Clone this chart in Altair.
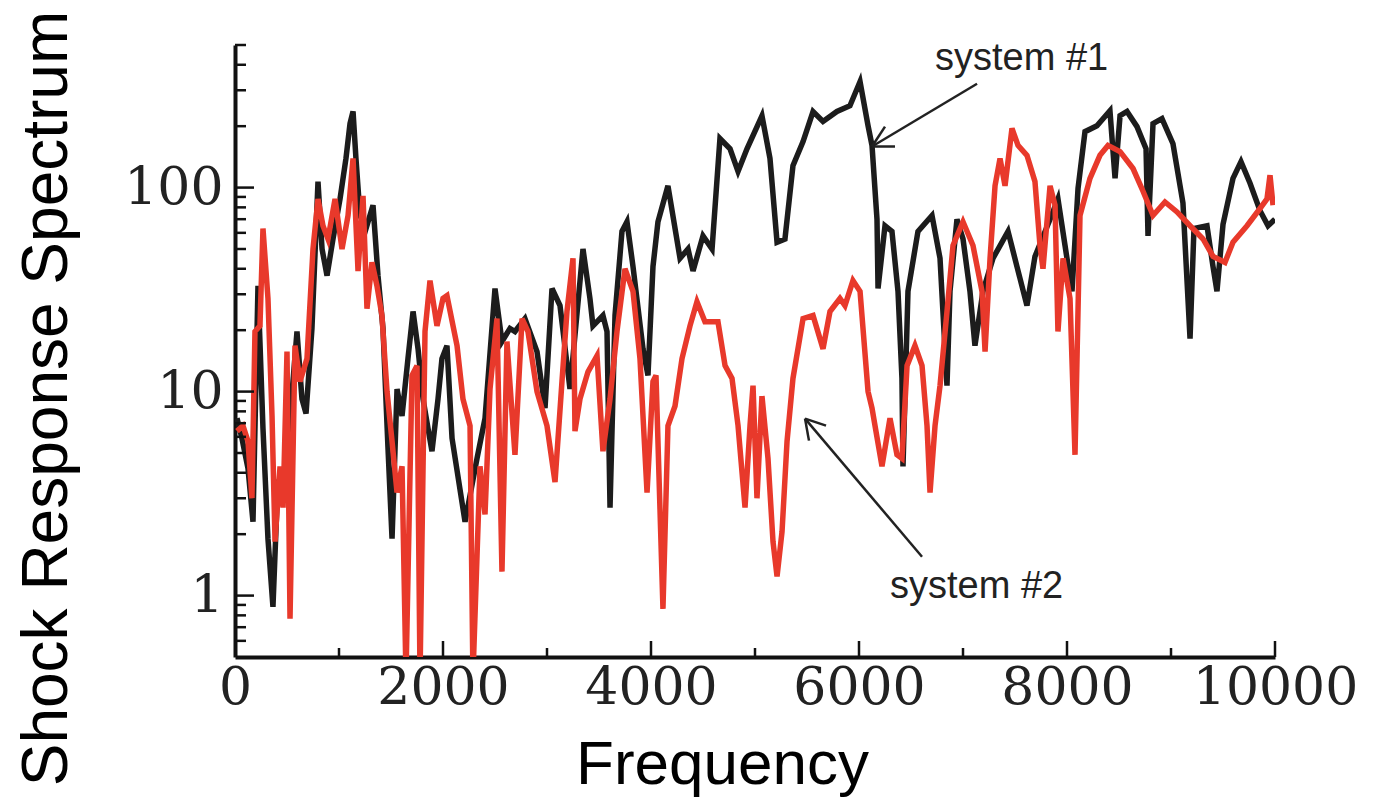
import altair as alt
import pandas as pd

# ---------------- data ----------------
black_freq = [19, 67, 125, 173, 221, 269, 317, 365, 413, 452, 529, 596, 644, 683, 740, 798, 837, 885,
              942, 1010, 1067, 1106, 1135, 1163, 1202, 1260, 1327, 1375, 1423, 1471, 1510, 1558, 1606,
              1663, 1712, 1760, 1808, 1856, 1894, 1952, 1990, 2038, 2087, 2212, 2327, 2404, 2500, 2567,
              2644, 2692, 2788, 2904, 2981, 3048, 3125, 3221, 3346, 3413, 3442, 3538, 3577, 3606, 3654,
              3721, 3769, 3827, 3923, 3971, 4019, 4067, 4163, 4279, 4356, 4404, 4500, 4587, 4663, 4760,
              4837, 4923, 5067, 5144, 5212, 5288, 5365, 5462, 5558, 5654, 5788, 5913, 6010, 6087, 6125,
              6173, 6183, 6250, 6317, 6375, 6413, 6423, 6471, 6567, 6702, 6779, 6846, 6875, 6942, 7000,
              7067, 7115, 7192, 7288, 7433, 7519, 7615, 7692, 7837, 7913, 7981, 8048, 8106, 8173, 8288,
              8413, 8462, 8510, 8577, 8673, 8760, 8779, 8827, 8913, 9019, 9115, 9183, 9221, 9346, 9404,
              9442, 9500, 9596, 9673, 9760, 9856, 9933, 10000]
black_val = [7.4, 5.9, 4.2, 2.3, 33, 6.6, 1.9, 0.88, 3.7, 2.8, 7.4, 19.7, 9.2, 7.8, 20.4, 107, 50, 37,
             56, 88, 139, 206, 236, 139, 73, 63, 82, 37, 20.4, 5.3, 1.9, 10.3, 7.6,
             14.5, 24.7, 16.2, 9.2, 6.6, 5.1, 9.2, 14.5, 16.8, 5.9, 2.3, 4.7, 7.4, 32, 17.6,
             20.4, 19.7, 22.8, 15.7, 8.3, 32, 26.4, 10.3, 50, 28.6, 21, 23.6, 19.7, 2.7, 23.6,
             61, 68, 41, 16.2, 12, 41, 68, 102, 45, 50, 39, 58, 50, 174, 155,
             120, 155, 225, 139, 54, 56, 128, 168, 236, 211, 236, 252, 331, 201, 161,
             70, 32, 65, 61, 31, 11.6, 4.3, 31, 61, 73, 45, 10.7, 31, 70, 56,
             31, 16.8, 31, 45, 61, 41, 26.4, 46, 70, 88, 52, 31, 99, 188, 201,
             238, 111, 225, 236, 199, 155, 58, 206, 218, 164, 84, 18.2, 63, 65, 41,
             31, 66, 111, 134, 105, 77, 65, 70]

red_freq = [19, 77, 125, 163, 192, 240, 269, 317, 356, 385, 433, 462, 500, 529, 577, 625, 692, 750,
            798, 846, 894, 962, 1029, 1087, 1135, 1183, 1231, 1269, 1317, 1365, 1413, 1462, 1510,
            1558, 1606, 1644, 1702, 1750, 1779, 1827, 1875, 1942, 2000, 2038, 2135, 2192, 2260, 2288,
            2356, 2404, 2452, 2519, 2567, 2615, 2692, 2760, 2817, 2904, 3000, 3077, 3144, 3192, 3250,
            3269, 3317, 3394, 3481, 3538, 3606, 3673, 3750, 3827, 3894, 3962, 4019, 4048, 4115, 4163,
            4231, 4298, 4375, 4442, 4519, 4644, 4712, 4779, 4837, 4904, 4952, 4981, 5019, 5067, 5125,
            5173, 5212, 5260, 5308, 5365, 5462, 5558, 5654, 5721, 5817, 5865, 5942, 6010, 6087, 6125,
            6154, 6221, 6298, 6365, 6413, 6462, 6538, 6606, 6654, 6683, 6731, 6779, 6846, 6904, 7000,
            7096, 7183, 7212, 7260, 7308, 7356, 7404, 7471, 7529, 7615, 7692, 7740, 7769, 7837, 7885,
            7913, 7962, 8029, 8077, 8125, 8221, 8317, 8394, 8510, 8635, 8731, 8827, 8942, 9058, 9183,
            9308, 9404, 9519, 9596, 9731, 9856, 9923, 9952, 9981]
red_val = [6.4, 6.8, 5.7, 3.0, 19.7, 21, 63, 28.6, 7.6, 1.84, 4.3, 2.7, 15.7, 0.77, 16.8, 11.2, 14.5, 50,
           88, 65, 56, 88, 50, 73, 139, 39, 91, 25.5, 43, 33, 23.6, 10, 5.7,
           3.2, 4.3, 0.4, 12, 13.4, 0.4, 19.7, 35, 21, 28.6, 29.5, 16.8, 9.2, 6.8, 0.4,
           4.3, 2.5, 10.3, 22.8, 1.31, 17.6, 4.9, 22.8, 19.7, 10, 6.8, 3.6, 11.2, 24.7, 45,
           6.4, 9.2, 12.5, 15, 5.1, 9.2, 19.7, 40, 31, 14.5, 3.2, 11.2, 12, 0.86, 6.8,
           8.5, 14.5, 21, 27.6, 22, 22, 13.4, 11.6, 6.8, 2.7, 6.8, 10.7, 3.0, 9.5, 4.7,
           1.84, 1.24, 2.06, 5.7, 11.6, 22.8, 23.6, 16.2, 24.7, 28.6, 26.4, 35, 31, 10, 8.3,
           6.8, 4.3, 7.4, 4.9, 4.7, 13.4, 16.8, 13.4, 6.8, 3.2, 6.8, 10.7, 24.7, 52, 68,
           52, 31, 15.7, 45, 102, 139, 102, 195, 161, 144, 107, 52, 40, 102, 82,
           19.7, 45, 28.6, 4.9, 73, 111, 144, 161, 150, 124, 96, 73, 85, 76, 65,
           56, 46, 43, 54, 65, 79, 88, 115, 82]

x_label_values = [0, 2000, 4000, 6000, 8000, 10000]
x_major_ticks = [2000, 4000, 6000, 8000, 10000]
x_minor_ticks = [1000, 3000, 5000, 7000, 9000]
y_label_values = [1, 10, 100]
y_minor_ticks = [0.6, 0.7, 0.8, 0.9, 2, 3, 4, 5, 6, 7, 8, 9,
                 20, 30, 40, 50, 60, 70, 80, 90, 200, 300, 400, 500]

# annotations (data coordinates)
ann_text = ["system #1", "system #2"]
ann_text_freq = [6731, 6298]
ann_text_val = [375, 0.97]
# arrows: shaft and barbs as segments (freq, val) -> (freq2, val2)
arrow_seg = [
    (7135, 323, 6125, 159),
    (6125, 159, 6346, 159),
    (6125, 159, 6250, 199),
    (6606, 1.55, 5481, 7.37),
    (5481, 7.37, 5519, 5.75),
    (5481, 7.37, 5683, 6.81),
]

# ---------------- build frames ----------------
df = pd.concat([
    pd.DataFrame({"freq": black_freq, "val": black_val, "series": "system #1"}),
    pd.DataFrame({"freq": red_freq, "val": red_val, "series": "system #2"}),
])
xscale = alt.Scale(domain=[0, 10000], nice=False, zero=False)
yscale = alt.Scale(type="log", domain=[0.5, 500], nice=False)

W, H = 1040, 612

xaxis = alt.Axis(values=x_label_values, ticks=False, grid=False, domainColor="#111",
                 domainWidth=4, labelFont="DejaVu Serif", labelFontSize=52, format="d",
                 labelColor="#222", labelPadding=5, labelFlush=False,
                 title="Frequency", titleFont="Liberation Sans", titleFontSize=62,
                 titleFontWeight="normal", titleColor="#000",
                 titleX=487, titleY=107, titleBaseline="middle", titleAlign="center")
yaxis = alt.Axis(values=y_label_values, ticks=False, grid=False, domainColor="#111",
                 domainWidth=4, labelFont="DejaVu Serif", labelFontSize=52,
                 labelColor="#222", labelPadding=12, format="d",
                 title="Shock Response Spectrum", titleFont="Liberation Sans",
                 titleFontSize=64, titleFontWeight="normal", titleColor="#000",
                 titleX=-188, titleY=353, titleAngle=-90,
                 titleBaseline="middle", titleAlign="center")

X = alt.X("freq:Q", scale=xscale, axis=xaxis)
Y = alt.Y("val:Q", scale=yscale, axis=yaxis)

lines = alt.Chart(df).mark_line(strokeWidth=5.5, clip=True, strokeJoin="miter").encode(
    x=X, y=Y,
    color=alt.Color("series:N", scale=alt.Scale(domain=["system #1", "system #2"],
                                                range=["#1c1c1c", "#e8392b"]), legend=None),
    detail="series:N",
)

yt_major = alt.Chart(pd.DataFrame({"val": y_label_values})).mark_rule(color="#111", strokeWidth=2.5).encode(
    y=Y, x=alt.value(0), x2=alt.value(19))
yt_minor = alt.Chart(pd.DataFrame({"val": y_minor_ticks})).mark_rule(color="#111", strokeWidth=2.5).encode(
    y=Y, x=alt.value(0), x2=alt.value(11))
xt_major = alt.Chart(pd.DataFrame({"freq": x_major_ticks})).mark_rule(color="#111", strokeWidth=2.5).encode(
    x=X, y=alt.value(H), y2=alt.value(H - 16))
xt_minor = alt.Chart(pd.DataFrame({"freq": x_minor_ticks})).mark_rule(color="#111", strokeWidth=2.5).encode(
    x=X, y=alt.value(H), y2=alt.value(H - 9))

arrows = alt.Chart(pd.DataFrame(arrow_seg, columns=["freq", "val", "freq2", "val2"])).mark_rule(
    color="#222", strokeWidth=2.5).encode(x=X, y=Y, x2="freq2:Q", y2="val2:Q")

labels = alt.Chart(pd.DataFrame({"freq": ann_text_freq, "val": ann_text_val, "t": ann_text})).mark_text(
    font="Liberation Sans", fontSize=38, align="left", baseline="alphabetic", color="#222").encode(
    x=X, y=Y, text="t:N")

chart = alt.layer(lines, yt_major, yt_minor, xt_major, xt_minor, arrows, labels).properties(
    width=W, height=H,
    autosize=alt.AutoSizeParams(type="none"),
    padding={"left": 235, "top": 45, "right": 98, "bottom": 141},
    background="white",
).configure_view(stroke=None)

chart.save("out.html", embed_options={"renderer": "svg", "actions": False})
